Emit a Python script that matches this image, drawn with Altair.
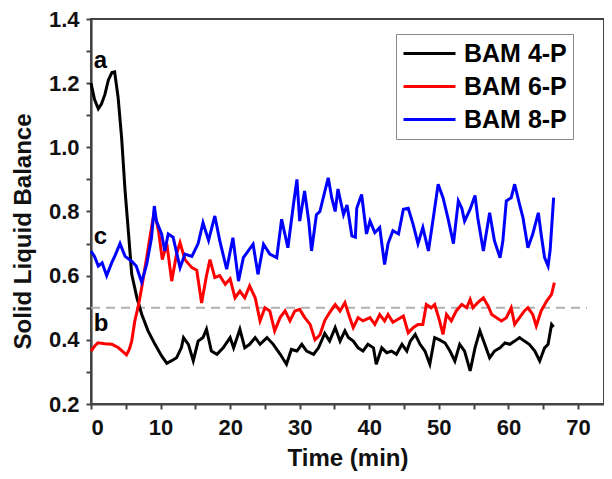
import altair as alt
import pandas as pd

series_names = ["BAM 4-P", "BAM 6-P", "BAM 8-P"]
series_colors = ["#000000", "#ff0000", "#0000ff"]

t4 = [0.0, 0.5, 1.05, 1.5, 2.0, 2.5, 3.0, 3.4, 3.9, 4.4, 4.9, 5.4, 5.85, 6.6, 7.3, 8.2, 9.2,
      10.15, 10.9, 11.6, 12.3, 13.0, 13.3, 14.0, 14.7, 15.4, 16.1, 16.6, 17.3, 18.1, 19.0, 20.0,
      20.5, 21.4, 22.1, 22.8, 23.6, 24.3, 25.3, 26.2, 27.2, 28.1, 28.8, 29.6, 30.3, 31.0, 32.0,
      32.7, 33.6, 34.3, 35.1, 35.8, 36.5, 37.0, 37.7, 38.4, 39.1, 39.8, 40.6, 41.0, 41.8, 42.5,
      43.2, 43.9, 44.7, 45.4, 45.9, 46.6, 47.3, 48.0, 48.7, 49.4, 50.1, 50.9, 51.6, 52.3, 53.0,
      53.7, 54.5, 55.2, 55.9, 56.6, 57.3, 58.0, 58.8, 59.5, 60.2, 60.9, 61.6, 62.3, 63.0, 63.8,
      64.5, 65.2, 65.7, 66.2, 66.5]
v4 = [1.20, 1.15, 1.12, 1.135, 1.165, 1.21, 1.233, 1.235, 1.155, 1.03, 0.864, 0.73, 0.605, 0.531,
      0.479, 0.428, 0.386, 0.35, 0.327, 0.335, 0.344, 0.376, 0.407, 0.386, 0.335, 0.396, 0.407,
      0.433, 0.365, 0.355, 0.375, 0.407, 0.375, 0.433, 0.375, 0.386, 0.407, 0.386, 0.407, 0.386,
      0.355, 0.324, 0.37, 0.365, 0.386, 0.365, 0.355, 0.375, 0.42, 0.396, 0.438, 0.396, 0.428,
      0.407, 0.396, 0.375, 0.365, 0.386, 0.375, 0.324, 0.375, 0.36, 0.365, 0.355, 0.386, 0.365,
      0.396, 0.417, 0.386, 0.365, 0.324, 0.407, 0.40, 0.39, 0.365, 0.334, 0.386, 0.365, 0.303,
      0.375, 0.428, 0.386, 0.344, 0.365, 0.375, 0.39, 0.386, 0.396, 0.407, 0.396, 0.386, 0.365,
      0.334, 0.375, 0.386, 0.448, 0.44]

t6 = [0.0, 0.5, 1.0, 2.0, 3.0, 3.9, 4.5, 5.1, 5.5, 5.85, 6.3, 6.8, 7.28, 8.0, 8.7, 9.1, 9.7,
      10.25, 10.9, 11.6, 12.3, 12.8, 13.5, 14.5, 15.2, 15.9, 16.6, 17.1, 17.8, 18.5, 19.3, 20.0,
      20.7, 21.4, 22.1, 22.8, 23.6, 24.3, 25.0, 25.7, 26.4, 27.2, 27.9, 28.6, 29.3, 30.0, 30.7,
      31.5, 32.2, 32.9, 33.6, 34.3, 35.1, 35.8, 36.5, 37.2, 37.7, 38.4, 39.1, 40.1, 40.8, 41.5,
      42.2, 42.7, 43.4, 44.2, 44.9, 45.6, 46.3, 47.0, 47.7, 48.2, 48.9, 49.4, 50.1, 50.6, 51.1,
      51.8, 52.5, 53.3, 54.0, 54.5, 54.9, 55.6, 56.4, 57.1, 57.6, 58.3, 59.0, 59.7, 60.4, 60.9,
      61.6, 62.3, 62.8, 63.5, 64.0, 64.7, 65.5, 66.2, 66.6]
v6 = [0.365, 0.38, 0.391, 0.388, 0.386, 0.376, 0.365, 0.353, 0.37, 0.396, 0.459, 0.505, 0.562,
      0.656, 0.75, 0.80, 0.74, 0.65, 0.70, 0.583, 0.667, 0.703, 0.65, 0.625, 0.617, 0.515, 0.60,
      0.65, 0.594, 0.60, 0.573, 0.59, 0.531, 0.552, 0.531, 0.568, 0.531, 0.459, 0.50, 0.49, 0.428,
      0.47, 0.49, 0.459, 0.49, 0.495, 0.47, 0.448, 0.40, 0.415, 0.46, 0.485, 0.51, 0.49, 0.516,
      0.469, 0.438, 0.469, 0.459, 0.469, 0.448, 0.479, 0.459, 0.479, 0.455, 0.465, 0.474, 0.422,
      0.438, 0.448, 0.448, 0.51, 0.50, 0.51, 0.46, 0.417, 0.479, 0.459, 0.49, 0.51, 0.50, 0.526,
      0.50, 0.516, 0.531, 0.505, 0.479, 0.469, 0.459, 0.469, 0.50, 0.448, 0.469, 0.49, 0.50,
      0.479, 0.443, 0.49, 0.521, 0.542, 0.578]

t8 = [0.0, 0.5, 1.05, 1.6, 2.25, 2.97, 3.5, 4.17, 4.9, 5.84, 6.5, 7.28, 8.0, 8.7, 9.1, 9.4, 10.15,
      10.6, 11.1, 11.8, 12.8, 13.5, 14.5, 15.4, 16.1, 16.9, 17.8, 18.5, 19.5, 20.4, 21.2, 21.9,
      22.6, 23.3, 24.0, 24.8, 25.7, 26.7, 27.4, 28.3, 29.1, 29.6, 30.0, 30.7, 31.3, 31.7, 32.4,
      32.9, 33.5, 34.1, 34.6, 35.1, 35.5, 36.3, 36.8, 37.5, 38.0, 38.2, 38.9, 39.6, 40.1, 40.8,
      41.5, 42.2, 42.7, 43.4, 44.2, 44.9, 45.6, 46.3, 47.0, 47.7, 48.5, 49.2, 49.9, 50.6, 51.3,
      52.1, 52.8, 53.3, 53.7, 54.5, 55.2, 55.6, 56.4, 57.3, 58.0, 58.8, 59.2, 59.7, 60.4, 60.9,
      61.6, 62.1, 62.8, 63.5, 64.3, 64.7, 65.2, 65.7, 66.0, 66.5]
v8 = [0.677, 0.66, 0.63, 0.64, 0.60, 0.64, 0.665, 0.70, 0.66, 0.645, 0.63, 0.58, 0.635, 0.718,
      0.817, 0.77, 0.73, 0.677, 0.73, 0.72, 0.625, 0.667, 0.66, 0.70, 0.765, 0.71, 0.786, 0.71,
      0.62, 0.718, 0.583, 0.656, 0.677, 0.698, 0.604, 0.698, 0.667, 0.656, 0.776, 0.687, 0.822,
      0.90, 0.77, 0.864, 0.77, 0.677, 0.79, 0.80, 0.853, 0.905, 0.843, 0.80, 0.87, 0.79, 0.82,
      0.724, 0.72, 0.81, 0.853, 0.73, 0.77, 0.734, 0.75, 0.635, 0.70, 0.74, 0.73, 0.807, 0.81,
      0.76, 0.70, 0.75, 0.677, 0.78, 0.885, 0.843, 0.78, 0.70, 0.833, 0.81, 0.77, 0.807, 0.85,
      0.78, 0.677, 0.796, 0.708, 0.656, 0.708, 0.833, 0.843, 0.885, 0.822, 0.78, 0.687, 0.73,
      0.796, 0.73, 0.656, 0.63, 0.68, 0.843]

ref_value = 0.5
ref_t = [0.0, 71.3]

ann_labels = ["a", "b", "c"]
ann_t = [0.4, 0.4, 0.4]
ann_v = [1.247, 0.427, 0.699]

x_ticks = [0, 5, 10, 15, 20, 25, 30, 35, 40, 45, 50, 55, 60, 65, 70]
y_ticks = [0.2, 0.3, 0.4, 0.5, 0.6, 0.7, 0.8, 0.9, 1.0, 1.1, 1.2, 1.3, 1.4]

rows = []
for name, ts, vs in zip(series_names, [t4, t6, t8], [v4, v6, v8]):
    for i, (t, v) in enumerate(zip(ts, vs)):
        rows.append({"series": name, "t": t, "v": v, "i": i})
df = pd.DataFrame(rows)

ref_df = pd.DataFrame({"t": ref_t, "v": [ref_value, ref_value]})
ann_df = pd.DataFrame({"label": ann_labels, "t": ann_t, "v": ann_v})

FONT = "Liberation Sans"

xscale = alt.Scale(domain=[0, 73.74], nice=False, zero=False)
yscale = alt.Scale(domain=[0.2, 1.4], nice=False, zero=False)

xaxis = alt.Axis(
    title="Time (min)", values=x_ticks,
    labelExpr="datum.value % 10 == 0 ? datum.label : ''",
    grid=False, tickSize=5, labelPadding=8, titlePadding=8,
)
yaxis = alt.Axis(
    title="Solid Liquid Balance", values=y_ticks,
    labelExpr="round(datum.value*10) % 2 == 0 ? format(datum.value, '.1f') : ''",
    grid=False, tickSize=5, labelPadding=7, titleX=-56, titleY=212,
)

ref = alt.Chart(ref_df).mark_line(color="#b0b0b0", strokeDash=[9, 6], strokeWidth=2).encode(
    x=alt.X("t:Q", scale=xscale, axis=xaxis),
    y=alt.Y("v:Q", scale=yscale, axis=yaxis),
)

lines = alt.Chart(df).mark_line(strokeWidth=3).encode(
    x=alt.X("t:Q", scale=xscale, axis=xaxis),
    y=alt.Y("v:Q", scale=yscale, axis=yaxis),
    color=alt.Color("series:N", scale=alt.Scale(domain=series_names, range=series_colors),
                    legend=alt.Legend(title=None, orient="none", legendX=305, legendY=15,
                                      symbolType="stroke", symbolSize=2700, symbolStrokeWidth=3,
                                      clipHeight=27, rowPadding=6,
                                      labelFontSize=25, labelFont=FONT, labelFontWeight="bold",
                                      labelColor="#000", labelOffset=7,
                                      padding=6, strokeColor="#888", fillColor="white")),
    order="i:Q",
)

ann = alt.Chart(ann_df).mark_text(font=FONT, fontWeight="bold", fontSize=24, align="left",
                                  baseline="alphabetic", color="#000").encode(
    x=alt.X("t:Q", scale=xscale, axis=xaxis),
    y=alt.Y("v:Q", scale=yscale, axis=yaxis),
    text="label:N",
)

chart = alt.layer(ref, lines, ann).properties(
    width=513, height=385,
    autosize=alt.AutoSizeParams(type="none"),
    padding={"left": 83, "top": 11, "right": 0, "bottom": 67},
).configure_view(
    stroke="#444", strokeWidth=2
).configure_axis(
    domainColor="#444", domainWidth=2.2, tickColor="#444", tickWidth=2,
    labelFont=FONT, labelFontWeight="bold", labelFontSize=22, labelColor="#111",
    titleFont=FONT, titleFontWeight="bold", titleFontSize=24, titleColor="#111",
)

chart.save("out.html", embed_options={"renderer": "svg", "actions": False})
